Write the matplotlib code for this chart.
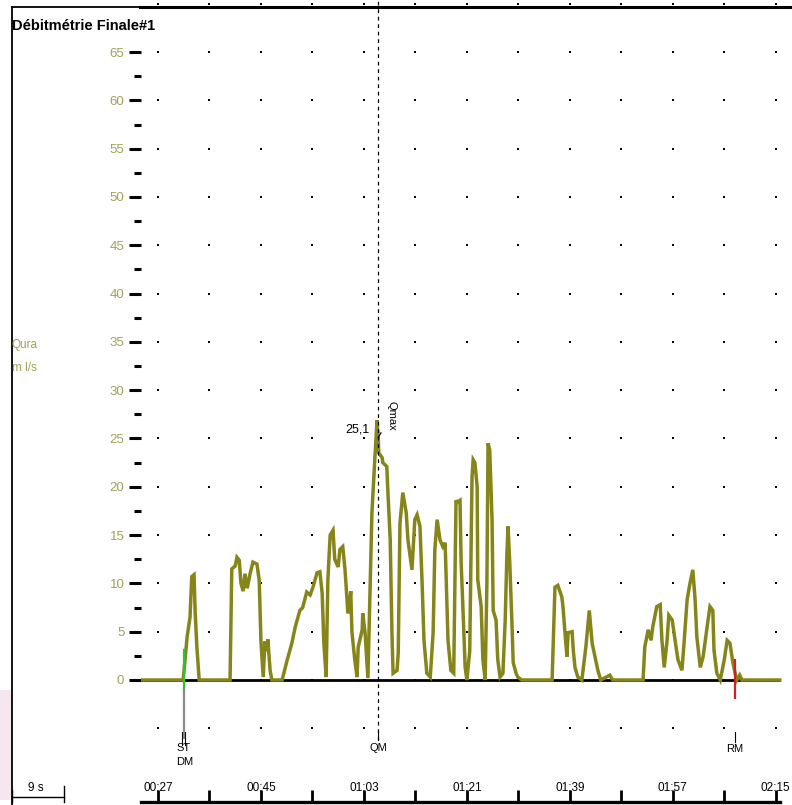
import matplotlib
matplotlib.use("Agg")
import matplotlib.pyplot as plt
from matplotlib.lines import Line2D
from matplotlib.patches import Rectangle
import numpy as np

plt.rcParams['font.family'] = ['Liberation Sans', 'DejaVu Sans']

# courbe de débit (temps en s, débit en ml/s)
flow_t = [23.9, 31.4, 32.1, 32.6, 32.9, 33.3, 33.5, 33.8, 34.2,
          39.6, 39.9, 40.5, 40.8, 41.2, 41.5, 41.9, 42.2, 42.6, 43.1, 43.6, 44.3, 44.7,
          45.0, 45.4, 45.7, 46.1, 46.2, 46.6, 46.9,
          48.7, 49.6, 50.4, 51.0, 51.8, 52.3, 53.0, 53.6, 54.1, 54.8, 55.3, 55.7, 56.0, 56.4,
          56.7, 57.1, 57.6, 57.9, 58.5, 58.8, 59.3, 59.7, 60.2, 60.5, 60.7, 60.9, 61.4, 61.8,
          62.0, 62.7, 62.8, 63.2, 63.5, 63.7,
          64.1, 64.4, 64.9, 65.3, 65.5, 65.6, 66.2, 66.3, 67.0, 67.2, 67.6, 67.9, 68.1,
          68.8, 69.0, 69.3, 69.8, 70.4, 70.7, 71.4, 71.9, 72.3, 72.8, 73.2, 73.5, 74.0,
          74.6, 75.1, 75.4, 75.8, 76.3, 76.8, 77.2, 77.5, 77.7, 78.2,
          78.7, 79.1, 79.3, 79.8, 80.0, 80.3, 80.7, 81.0,
          81.5, 81.9, 82.1, 82.4, 82.8, 82.9, 83.5, 83.8, 84.2,
          84.5, 84.7, 85.0, 85.4, 85.6, 86.1, 86.4, 86.8,
          87.3, 87.7, 88.0, 88.2, 88.5, 88.9, 89.1, 89.6, 89.9, 90.6,
          95.9, 96.4, 96.9, 97.6, 97.8, 98.2, 98.5, 98.7, 99.4, 99.6, 99.9, 100.4, 101.1,
          101.8, 102.4, 102.9, 103.4, 103.9, 104.4, 106.0, 106.5,
          111.8, 112.1, 112.7, 113.2, 113.5, 114.2, 114.8, 115.1, 115.5, 116.0, 116.3,
          116.9, 117.4, 117.9, 118.6, 119.0, 119.5, 120.0, 120.5, 120.9, 121.2, 121.8,
          122.3, 123.0, 123.5, 124.0, 124.2, 124.7, 125.3,
          126.0, 126.5, 127.0, 127.5, 127.9, 128.2, 128.7, 129.1, 135.7]
flow_v = [0, 0, 4.5, 6.5, 10.7, 10.9, 7.0, 3.4, 0,
          0, 11.5, 11.8, 12.7, 12.4, 10.0, 9.2, 11.0, 9.5, 11.0, 12.2, 12.0, 10.3,
          4.0, 0.3, 4.0, 3.0, 4.2, 1.0, 0,
          0, 2.1, 3.8, 5.5, 7.2, 7.5, 9.1, 8.8, 9.6, 11.1, 11.2, 9.0, 3.8, 0.3,
          10.4, 15.0, 15.5, 12.5, 11.7, 13.5, 13.8, 11.4, 6.9, 8.0, 9.2, 5.0, 2.1, 0.3,
          3.4, 5.2, 6.9, 4.9, 2.1, 0.2,
          10.0, 17.3, 22.8, 26.9, 25.1, 23.5, 23.0, 22.5, 22.1, 19.4, 14.5, 4.9, 0.7,
          1.0, 2.8, 16.2, 19.4, 17.3, 14.5, 11.4, 16.6, 17.1, 15.9, 9.6, 4.1, 0.7,
          0.3, 4.9, 13.5, 16.6, 14.5, 13.8, 14.2, 8.3, 4.1, 1.0,
          0.7, 18.6, 18.4, 18.6, 12.1, 7.6, 1.3, 0.0,
          3.0, 21.0, 22.8, 22.5, 20.0, 10.4, 7.6, 2.1, 0.0,
          10.0, 24.5, 23.8, 16.6, 7.2, 6.2, 2.1, 0.3,
          0.7, 6.2, 13.1, 15.9, 12.1, 5.5, 1.8, 0.7, 0.3, 0.0,
          0, 9.6, 9.8, 8.6, 7.6, 4.5, 2.4, 4.9, 5.0, 3.1, 1.3, 0.3, 0,
          3.4, 7.2, 3.8, 2.4, 1.0, 0, 0.5, 0,
          0, 3.4, 5.2, 4.1, 5.5, 7.6, 7.8, 4.1, 1.3, 4.1, 6.7,
          6.2, 4.1, 2.1, 1.0, 4.1, 8.3, 10.0, 11.4, 8.3, 4.5, 1.3,
          2.4, 5.5, 7.6, 7.2, 3.1, 0.7, 0,
          2.1, 4.1, 3.8, 1.8, 0.7, 0, 0.5, 0, 0]

# repères
st_time = 31.6
qm_time = 65.5
rm_time = 127.9
qmax = 25.1

y_ticks = list(range(0, 70, 5))
x_ticks = [27, 45, 63, 81, 99, 117, 135]
x_labels = ['00:27', '00:45', '01:03', '01:21', '01:39', '01:57', '02:15']
grid_t = np.arange(27, 136, 9)
grid_v = [-5] + list(range(0, 75, 5))

olive = '#85851a'
olive_txt = '#a0a058'

W, H = 792, 805
fig = plt.figure(figsize=(W / 100, H / 100), dpi=100)
fig.patch.set_facecolor('white')
ax = fig.add_axes([141 / W, 3 / H, 651 / W, 802 / H])
ax.set_xlim(24.03, 137.84)
ax.set_ylim(-12.63, 70.39)
ax.set_facecolor('none')

# grille de points
gt, gv = np.meshgrid(grid_t, grid_v)
ax.scatter(gt.ravel(), gv.ravel(), s=4, color='black', marker='s', lw=0, zorder=1, clip_on=False)

# ligne zéro + courbe
ax.plot([24.0, 135.7], [0, 0], color='black', lw=2, zorder=2, solid_capstyle='butt')
ax.plot(flow_t, flow_v, color=olive, lw=2.5, zorder=3, solid_joinstyle='miter')

# Qmax
ax.plot([qm_time, qm_time], [-6.2, 70.4], color='black', lw=0.9, ls=(0, (3, 3)), zorder=4, clip_on=False)
ax.plot([qm_time, qm_time + 0.5], [qmax, qmax + 0.5], color='black', lw=0.8, zorder=5)
ax.text(61.8, 25.9, f'{qmax:.1f}'.replace('.', ','), fontsize=9, ha='center', va='center')
ax.text(67.9, 27.3, 'Qmax', fontsize=8, rotation=-90, ha='center', va='center')

# ST / DM
ax.plot([st_time, st_time], [-1.0, 3.1], color='#2ec42e', lw=1.6, zorder=5)
ax.plot([st_time - 0.1, st_time - 0.1], [-1.0, -6.0], color='#8a8a8a', lw=1.6, zorder=5)
for dt in (-0.35, 0.15):
    ax.plot([st_time + dt, st_time + dt], [-5.4, -6.7], color='black', lw=0.8)
ax.text(st_time - 0.2, -7.0, 'ST', fontsize=8, ha='center', va='center')
ax.text(st_time + 0.1, -8.5, 'DM', fontsize=8, ha='center', va='center')

# QM
ax.plot([qm_time, qm_time], [-5.4, -6.2], color='black', lw=0.8)
ax.text(qm_time, -7.0, 'QM', fontsize=8, ha='center', va='center')

# RM
ax.plot([rm_time, rm_time], [-1.9, 2.1], color='#d02020', lw=1.6, zorder=5)
ax.plot([rm_time, rm_time], [-5.4, -6.4], color='black', lw=0.8)
ax.text(rm_time, -7.1, 'RM', fontsize=8, ha='center', va='center')

# axes
for side in ('top', 'right', 'left'):
    ax.spines[side].set_visible(False)
ax.spines['bottom'].set_linewidth(2.4)
ax.spines['bottom'].set_bounds(24.0, 135.7)

ax.set_yticks(y_ticks)
ax.set_yticks(np.arange(2.5, 65, 5), minor=True)
ax.tick_params(axis='y', which='major', direction='out', length=8.5, width=2.2,
               color='black', labelcolor=olive_txt, labelsize=9.5, pad=3.5)
ax.tick_params(axis='y', which='minor', direction='out', length=5, width=2.2, color='black')

ax.set_xticks(x_ticks)
ax.set_xticklabels(x_labels)
ax.set_xticks(np.arange(36, 130, 18), minor=True)
ax.tick_params(axis='x', which='both', direction='in', length=9, width=2, color='black')
ax.tick_params(axis='x', which='major', labelsize=8.5, pad=-14.2)

# échelle 9 s
ax.plot([1.5, 10.5], [-12.1, -12.1], color='black', lw=1, clip_on=False)
ax.plot([1.5, 1.5], [-11.4, -12.63], color='black', lw=1, clip_on=False)
ax.plot([10.5, 10.5], [-11.0, -12.63], color='black', lw=1, clip_on=False)
ax.text(5.7, -11.2, '9 s', fontsize=8.5, ha='center', va='center', clip_on=False)

# cadre
fig.add_artist(Line2D([12 / W, 12 / W], [0, 1 - 7 / H], color='black', lw=1.3, transform=fig.transFigure))
fig.add_artist(Line2D([12 / W, 1], [1 - 7 / H, 1 - 7 / H], color='black', lw=1.3, transform=fig.transFigure))
fig.add_artist(Line2D([140 / W, 1], [1 - 7 / H, 1 - 7 / H], color='black', lw=2.2, transform=fig.transFigure))
fig.add_artist(Rectangle((0, 5 / H), 11 / W, 110 / H, color='#f6e6ef', lw=0, transform=fig.transFigure))

fig.text(12 / W, 1 - 26 / H, 'Débitmétrie Finale#1', fontsize=10.5, fontweight='bold', ha='left', va='center')
fig.text(12 / W, 1 - 345 / H, 'Qura', fontsize=8.5, color=olive_txt, ha='left', va='center')
fig.text(12 / W, 1 - 368 / H, 'm l/s', fontsize=8.5, color=olive_txt, ha='left', va='center')

fig.savefig('out.png', dpi=100)
